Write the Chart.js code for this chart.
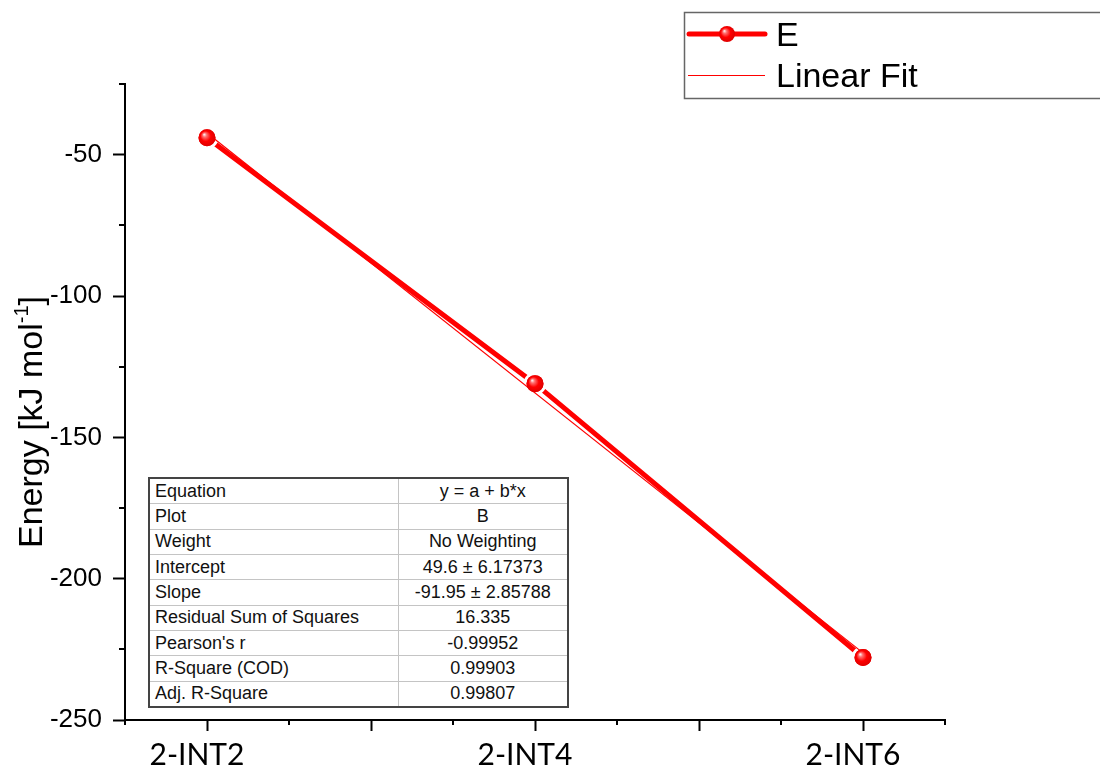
<!DOCTYPE html>
<html>
<head>
<meta charset="utf-8">
<script src="https://cdn.jsdelivr.net/npm/chart.js@4.4.0/dist/chart.umd.min.js"></script>
<style>
  html, body { margin: 0; padding: 0; background: #fff; }
  #wrap { position: relative; width: 1100px; height: 774px; }
  #fit {
    position: absolute; left: 148px; top: 477px; width: 419px; height: 231px;
    border-collapse: collapse; table-layout: fixed; border: 2px solid #444;
    font-family: "Liberation Sans", Arial, sans-serif; font-size: 18px; color: #111;
    background: #fff;
  }
  #fit td { border: 1px solid #c4c4c4; padding: 0 0 0 5px; white-space: nowrap; }
  #fit td.val { text-align: center; padding: 0; }
</style>
</head>
<body>
<div id="wrap">
  <canvas id="myChart" width="1100" height="774"></canvas>
  <table id="fit"><colgroup><col style="width:249px"><col style="width:170px"></colgroup><tbody></tbody></table>
</div>
<script>
// categories sit at x = 1, 2, 3 on a numeric axis (Origin style)
const categories = ['2-INT2', '2-INT4', '2-INT6'];
const categoryX = [1, 2, 3];
const energy = [-44.0, -131.0, -227.9];

// linear fit line end points
const fitX = [1, 3];
const fitY = [-42.35, -226.25];

const fitRows = [
  ['Equation', 'y = a + b*x'],
  ['Plot', 'B'],
  ['Weight', 'No Weighting'],
  ['Intercept', '49.6 \u00b1 6.17373'],
  ['Slope', '-91.95 \u00b1 2.85788'],
  ['Residual Sum of Squares', '16.335'],
  ["Pearson's r", '-0.99952'],
  ['R-Square (COD)', '0.99903'],
  ['Adj. R-Square', '0.99807']
];

const RED = '#ff0000';
const ARIAL = '"Liberation Sans", Arial, sans-serif';

// fill the fit table
let tbody = document.querySelector('#fit tbody');
fitRows.forEach(r => {
  let tr = document.createElement('tr');
  tr.innerHTML = '<td></td><td class="val"></td>';
  tr.children[0].textContent = r[0];
  tr.children[1].textContent = r[1];
  tbody.appendChild(tr);
});

function drawSphere(ctx, x, y, r) {
  let g = ctx.createRadialGradient(x - r * 0.35, y - r * 0.4, 0, x, y, r * 1.1);
  g.addColorStop(0, '#ffffff');
  g.addColorStop(0.22, '#ff7070');
  g.addColorStop(0.55, '#ff0000');
  g.addColorStop(1, '#d80000');
  ctx.beginPath();
  ctx.arc(x, y, r, 0, Math.PI * 2);
  ctx.fillStyle = g;
  ctx.fill();
}

const originLook = {
  id: 'originLook',
  afterDatasetsDraw(chart) {
    const ctx = chart.ctx;
    // spheres on top of the E points
    chart.getDatasetMeta(1).data.forEach(p => drawSphere(ctx, p.x, p.y, 8.5));
  },
  afterDraw(chart) {
    const ctx = chart.ctx;
    const xs = chart.scales.x, ys = chart.scales.y;
    const area = chart.chartArea;
    ctx.save();
    // minor ticks
    ctx.strokeStyle = '#000';
    ctx.lineWidth = 2;
    ys.ticks.forEach(t => {
      if (t.value % 50 !== 0) {
        let py = Math.round(ys.getPixelForValue(t.value));
        ctx.beginPath(); ctx.moveTo(area.left - 6, py); ctx.lineTo(area.left, py); ctx.stroke();
      }
    });
    xs.ticks.forEach(t => {
      if (Math.abs(t.value * 2 - Math.round(t.value * 2)) > 1e-6) {
        let px = Math.round(xs.getPixelForValue(t.value));
        ctx.beginPath(); ctx.moveTo(px, area.bottom); ctx.lineTo(px, area.bottom + 5); ctx.stroke();
      }
    });

    // y axis title with superscript
    ctx.fillStyle = '#000';
    ctx.textBaseline = 'alphabetic';
    ctx.textAlign = 'left';
    const main = 'Energy [kJ mol', sup = '-1', tail = ']';
    ctx.font = '34px ' + ARIAL;
    let w1 = ctx.measureText(main).width, w3 = ctx.measureText(tail).width;
    ctx.font = '20px ' + ARIAL;
    let w2 = ctx.measureText(sup).width;
    let total = w1 + w2 + w3;
    ctx.translate(42, 422 + total / 2);
    ctx.rotate(-Math.PI / 2);
    ctx.font = '34px ' + ARIAL;
    ctx.fillText(main, 0, 0);
    ctx.font = '20px ' + ARIAL;
    ctx.fillText(sup, w1, -14);
    ctx.font = '34px ' + ARIAL;
    ctx.fillText(tail, w1 + w2, 0);
    ctx.restore();

    // legend box
    ctx.save();
    const ds = chart.data.datasets;
    ctx.strokeStyle = '#666';
    ctx.lineWidth = 1.5;
    ctx.strokeRect(684.5, 12.5, 430, 86);
    ctx.strokeStyle = ds[1].borderColor;
    ctx.lineWidth = 5;
    ctx.lineCap = 'round';
    ctx.beginPath(); ctx.moveTo(689, 34); ctx.lineTo(765, 34); ctx.stroke();
    drawSphere(ctx, 727, 34, 8);
    ctx.lineCap = 'butt';
    ctx.lineWidth = 1.2;
    ctx.strokeStyle = ds[0].borderColor;
    ctx.beginPath(); ctx.moveTo(688, 75.5); ctx.lineTo(765, 75.5); ctx.stroke();
    ctx.fillStyle = '#000';
    ctx.font = '34px ' + ARIAL;
    ctx.textBaseline = 'alphabetic';
    ctx.fillText(ds[1].label, 776, 46);
    ctx.fillText(ds[0].label, 776, 87);
    ctx.restore();
  }
};

const config = {
  type: 'line',
  data: {
    datasets: [{
      label: 'Linear Fit',
      data: fitX.map((x, i) => ({ x: x, y: fitY[i] })),
      borderColor: RED,
      borderWidth: 1.2,
      pointRadius: 0,
      fill: false
    }, {
      label: 'E',
      data: categoryX.map((x, i) => ({ x: x, y: energy[i] })),
      borderColor: RED,
      borderWidth: 5,
      pointRadius: 10,
      pointBorderWidth: 3,
      pointBorderColor: '#ffffff',
      pointBackgroundColor: RED,
      fill: false
    }]
  },
  options: {
    responsive: false,
    animation: false,
    layout: { padding: { top: 84, right: 155, left: 0, bottom: 0 } },
    plugins: { legend: { display: false }, tooltip: { enabled: false } },
    scales: {
      x: {
        type: 'linear',
        min: 0.75,
        max: 3.25,
        afterFit: s => { s.height = 54; },
        border: { display: true, color: '#000', width: 2 },
        grid: {
          drawOnChartArea: false,
          drawTicks: true,
          tickLength: 11,
          tickWidth: 2,
          tickColor: c => (Math.abs(c.tick.value * 2 - Math.round(c.tick.value * 2)) < 1e-6 ? '#000' : 'rgba(0,0,0,0)')
        },
        ticks: {
          stepSize: 0.25,
          autoSkip: false,
          maxRotation: 0,
          padding: 6,
          labelOffset: -10,
          color: '#000',
          font: { family: 'Lato', size: 30 },
          callback: v => (Number.isInteger(v) ? categories[v - 1] : '')
        }
      },
      y: {
        min: -250,
        max: -25,
        afterFit: s => { s.width = 125; },
        border: { display: true, color: '#000', width: 2 },
        grid: {
          drawOnChartArea: false,
          drawTicks: true,
          tickLength: 12,
          tickWidth: 2,
          tickColor: c => (c.tick.value % 50 === 0 ? '#000' : 'rgba(0,0,0,0)')
        },
        ticks: {
          stepSize: 25,
          autoSkip: false,
          padding: 11,
          color: '#000',
          font: { family: 'Liberation Sans', size: 26 },
          callback: v => (v % 50 === 0 ? v : '')
        }
      }
    }
  },
  plugins: [originLook]
};

const chart = new Chart(document.getElementById('myChart'), config);
</script>
</body>
</html>
